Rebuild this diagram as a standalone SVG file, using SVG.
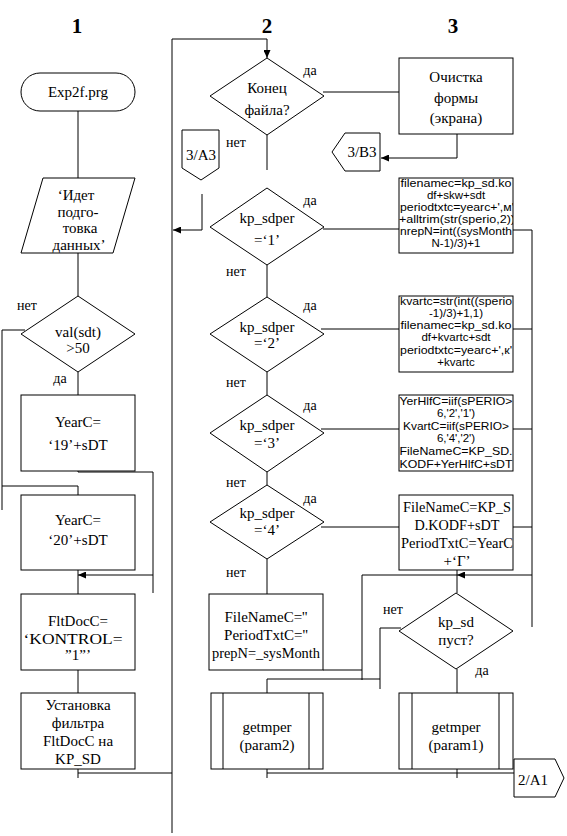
<svg xmlns="http://www.w3.org/2000/svg" width="567" height="836" viewBox="0 0 567 836">
<style>
.s{fill:#fff;stroke:#000;stroke-width:1}
.l{fill:none;stroke:#000;stroke-width:1}
.t{font-family:"Liberation Serif","Times New Roman",serif;font-size:15px;fill:#000;text-anchor:middle}
.c{font-family:"Liberation Serif","Times New Roman",serif;font-size:14px;fill:#000;text-anchor:middle}
.a{font-family:"Liberation Sans",Arial,sans-serif;font-size:11.5px;fill:#000;text-anchor:middle}
.h{font-family:"Liberation Serif","Times New Roman",serif;font-size:21px;font-weight:bold;fill:#000;text-anchor:middle}
</style>
<defs>
<marker id="arr" markerUnits="userSpaceOnUse" markerWidth="9" markerHeight="7" refX="8" refY="3.5" orient="auto"><path d="M0,0 L8,3.5 L0,7 z" fill="#000"/></marker>
<clipPath id="cb1"><rect x="399" y="178" width="114" height="75"/></clipPath>
<clipPath id="cb2"><rect x="399" y="296" width="114" height="76"/></clipPath>
<clipPath id="cb3"><rect x="399" y="395" width="114" height="76"/></clipPath>
</defs>

<g id="headings">
<text class="h" x="77" y="33">1</text>
<text class="h" x="267" y="33">2</text>
<text class="h" x="453" y="33">3</text>
</g>

<g id="connectors">
<path class="l" d="M78,111 V178"/>
<path class="l" d="M78,253 V296"/>
<path class="l" d="M25,330 H2 V510"/>
<path class="l" d="M2,486 H78 V495"/>
<path class="l" d="M78,372 V395"/>
<path class="l" d="M78,462 V472 H153 V593"/>
<path class="l" d="M153,575 H78" marker-end="url(#arr)"/>
<path class="l" d="M78,570 V594"/>
<path class="l" d="M78,662 V693"/>
<path class="l" d="M78,760 V778"/>
<path class="l" d="M78,773 H172"/>
<path class="l" d="M172,833 V39 H267 V58" marker-end="url(#arr)"/>
<path class="l" d="M323,92 H399"/>
<path class="l" d="M267,135 V170"/>
<path class="l" d="M202,194 V230 H173" marker-end="url(#arr)"/>
<path class="l" d="M323,229 H399"/>
<path class="l" d="M267,265 V297"/>
<path class="l" d="M321,329 H399"/>
<path class="l" d="M267,372 V395"/>
<path class="l" d="M321,429 H399"/>
<path class="l" d="M267,472 V485"/>
<path class="l" d="M321,527 H399"/>
<path class="l" d="M267,559 V594"/>
<path class="l" d="M267,660 V670" stroke="#888"/>
<path class="l" d="M323,670 H362"/>
<path class="l" d="M267,693 V679 H380"/>
<path class="l" d="M362,575 V680"/>
<path class="l" d="M267,759 V778"/>
<path class="l" d="M267,773 H514"/>
<path class="l" d="M457,133 V158 H381" marker-end="url(#arr)"/>
<path class="l" d="M513,230 H532 V627"/>
<path class="l" d="M513,329 H532"/>
<path class="l" d="M513,429 H532"/>
<path class="l" d="M513,527 H532"/>
<path class="l" d="M532,575 H457" marker-end="url(#arr)"/>
<path class="l" d="M457,575 H362"/>
<path class="l" d="M457,560 V593"/>
<path class="l" d="M401,628 H380 V689"/>
<path class="l" d="M457,669 V693"/>
<path class="l" d="M457,759 V778"/>
</g>

<g id="labels">
<text class="c" x="27" y="310">нет</text>
<text class="c" x="60" y="383">да</text>
<text class="c" x="310" y="75">да</text>
<text class="c" x="236" y="147">нет</text>
<text class="c" x="310" y="205">да</text>
<text class="c" x="236" y="276">нет</text>
<text class="c" x="310" y="310">да</text>
<text class="c" x="236" y="387">нет</text>
<text class="c" x="310" y="410">да</text>
<text class="c" x="236" y="487">нет</text>
<text class="c" x="310" y="503">да</text>
<text class="c" x="236" y="577">нет</text>
<text class="c" x="393" y="614">нет</text>
<text class="c" x="482" y="675">да</text>
</g>

<g id="start">
<rect class="s" x="21" y="73" width="114" height="38" rx="19"/>
<text class="t" x="78" y="97">Exp2f.prg</text>
</g>
<g id="msg">
<polygon class="s" points="43,178 135,178 113,253 21,253"/>
<text class="t" x="76" y="200">‘Идет</text>
<text class="t" x="78" y="217">подго-</text>
<text class="t" x="80" y="233">товка</text>
<text class="t" x="79" y="250">данных’</text>
</g>
<g id="dec_sdt">
<polygon class="s" points="78,296 135,334 78,372 21,334"/>
<text class="t" x="78" y="337">val(sdt)</text>
<text class="t" x="78" y="353">&gt;50</text>
</g>
<g id="year19">
<rect class="s" x="21" y="395" width="114" height="76"/>
<text class="t" x="78" y="427">YearC=</text>
<text class="t" x="78" y="450">‘19’+sDT</text>
</g>
<g id="year20">
<rect class="s" x="21" y="495" width="114" height="75"/>
<text class="t" x="78" y="525">YearC=</text>
<text class="t" x="78" y="545">‘20’+sDT</text>
</g>
<g id="fltdoc">
<rect class="s" x="21" y="594" width="114" height="76"/>
<text class="t" x="78" y="626">FltDocC=</text>
<text class="t" x="73" y="644" textLength="99" lengthAdjust="spacingAndGlyphs">‘KONTROL=</text>
<text class="t" x="78" y="660">”1”’</text>
</g>
<g id="filter">
<rect class="s" x="21" y="693" width="114" height="76"/>
<text class="t" x="78" y="710">Установка</text>
<text class="t" x="78" y="728">фильтра</text>
<text class="t" x="78" y="746">FltDocC на</text>
<text class="t" x="78" y="764">KP_SD</text>
</g>

<g id="dec_eof">
<polygon class="s" points="267,58 324,96 267,135 210,96"/>
<text class="t" x="267" y="93">Конец</text>
<text class="t" x="267" y="115">файла?</text>
</g>
<g id="off_3A3">
<path class="s" d="M182,130 H219 V168 L201,180 L182,168 Z"/>
<text class="t" x="201" y="160">3/A3</text>
</g>
<g id="dec1">
<polygon class="s" points="267,188 324,227 267,265 210,227"/>
<text class="t" x="267" y="223">kp_sdper</text>
<text class="t" x="267" y="245">=‘1’</text>
</g>
<g id="dec2">
<polygon class="s" points="267,297 324,334 267,372 210,334"/>
<text class="t" x="267" y="332">kp_sdper</text>
<text class="t" x="267" y="348">=‘2’</text>
</g>
<g id="dec3">
<polygon class="s" points="267,395 324,433 267,472 210,433"/>
<text class="t" x="267" y="430">kp_sdper</text>
<text class="t" x="267" y="448">=‘3’</text>
</g>
<g id="dec4">
<polygon class="s" points="267,485 324,522 267,559 210,522"/>
<text class="t" x="267" y="518">kp_sdper</text>
<text class="t" x="267" y="535">=‘4’</text>
</g>
<g id="empty">
<rect class="s" x="209" y="594" width="114" height="76"/>
<text class="t" x="266" y="622">FileNameC=''</text>
<text class="t" x="266" y="640">PeriodTxtC=''</text>
<text class="t" x="266" y="658" textLength="108" lengthAdjust="spacingAndGlyphs">prepN=_sysMonth</text>
</g>
<g id="getmper2">
<rect class="s" x="211" y="693" width="112" height="76"/>
<path class="l" d="M223,693 V769 M309,693 V769"/>
<text class="t" x="267" y="732">getmper</text>
<text class="t" x="267" y="750">(param2)</text>
</g>

<g id="clear">
<rect class="s" x="399" y="58" width="114" height="76"/>
<text class="t" x="456" y="82">Очистка</text>
<text class="t" x="456" y="103">формы</text>
<text class="t" x="456" y="123">(экрана)</text>
</g>
<g id="off_3B3">
<path class="s" d="M345,133 H380 V171 H345 L332,152 Z"/>
<text class="t" x="362" y="157">3/B3</text>
</g>
<g id="month">
<rect class="s" x="399" y="178" width="114" height="75"/>
<g clip-path="url(#cb1)">
<text class="a" x="456" y="187" textLength="111" lengthAdjust="spacingAndGlyphs">filenamec=kp_sd.ko</text>
<text class="a" x="456" y="199">df+skw+sdt</text>
<text class="a" x="457" y="211" textLength="114" lengthAdjust="spacingAndGlyphs">periodtxtc=yearc+',м'</text>
<text class="a" x="457" y="223" textLength="116" lengthAdjust="spacingAndGlyphs">+alltrim(str(sperio,2))</text>
<text class="a" x="456" y="235" textLength="112" lengthAdjust="spacingAndGlyphs">nrepN=int((sysMonth</text>
<text class="a" x="456" y="247">N-1)/3)+1</text>
</g>
</g>
<g id="quarter">
<rect class="s" x="399" y="296" width="114" height="76"/>
<g clip-path="url(#cb2)">
<text class="a" x="456" y="305" textLength="112" lengthAdjust="spacingAndGlyphs">kvartc=str(int((sperio</text>
<text class="a" x="456" y="317">-1)/3)+1,1)</text>
<text class="a" x="456" y="329" textLength="111" lengthAdjust="spacingAndGlyphs">filenamec=kp_sd.ko</text>
<text class="a" x="456" y="341">df+kvartc+sdt</text>
<text class="a" x="456" y="354" textLength="112" lengthAdjust="spacingAndGlyphs">periodtxtc=yearc+',к'</text>
<text class="a" x="456" y="366">+kvartc</text>
</g>
</g>
<g id="half">
<rect class="s" x="399" y="395" width="114" height="76"/>
<g clip-path="url(#cb3)">
<text class="a" x="456" y="405" textLength="113" lengthAdjust="spacingAndGlyphs">YerHlfC=iif(sPERIO&gt;</text>
<text class="a" x="456" y="417">6,'2','1')</text>
<text class="a" x="456" y="430" textLength="106" lengthAdjust="spacingAndGlyphs">KvartC=iif(sPERIO&gt;</text>
<text class="a" x="456" y="442">6,'4','2')</text>
<text class="a" x="456" y="455" textLength="113" lengthAdjust="spacingAndGlyphs">FileNameC=KP_SD.</text>
<text class="a" x="456" y="468" textLength="113" lengthAdjust="spacingAndGlyphs">KODF+YerHlfC+sDT</text>
</g>
</g>
<g id="year">
<rect class="s" x="399" y="495" width="114" height="75"/>
<text class="t" x="457" y="512" textLength="108" lengthAdjust="spacingAndGlyphs">FileNameC=KP_S</text>
<text class="t" x="457" y="530" textLength="85" lengthAdjust="spacingAndGlyphs">D.KODF+sDT</text>
<text class="t" x="457" y="548" textLength="112" lengthAdjust="spacingAndGlyphs">PeriodTxtC=YearC</text>
<text class="t" x="457" y="566">+‘Г’</text>
</g>
<g id="dec_empty">
<polygon class="s" points="456,593 513,631 456,669 399,631"/>
<text class="t" x="456" y="627">kp_sd</text>
<text class="t" x="456" y="645">пуст?</text>
</g>
<g id="getmper1">
<rect class="s" x="399" y="693" width="114" height="76"/>
<path class="l" d="M412,693 V769 M499,693 V769"/>
<text class="t" x="456" y="732">getmper</text>
<text class="t" x="456" y="750">(param1)</text>
</g>
<g id="off_2A1">
<path class="s" d="M514,759 H555 L564,778 L555,797 H514 Z"/>
<text class="t" x="533" y="785">2/A1</text>
</g>
</svg>
